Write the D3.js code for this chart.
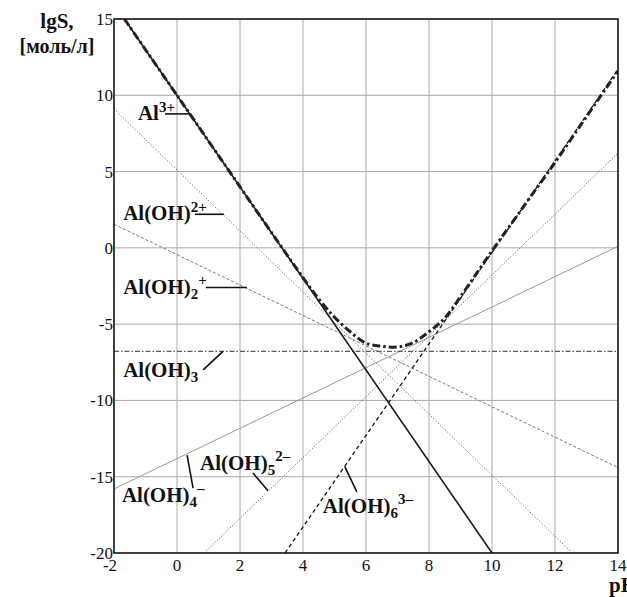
<!DOCTYPE html>
<html>
<head>
<meta charset="utf-8">
<script src="https://cdn.jsdelivr.net/npm/d3@7"></script>
<style>
  body { margin: 0; background: #fff; }
  svg { display: block; }
  text { font-family: "Liberation Serif", "Tinos", "Times New Roman", "DejaVu Serif", serif; fill: #111; }
  .tick_lbl { font-size: 17px; }
  .lbl { font-size: 21px; font-weight: bold; }
</style>
</head>
<body>
<svg id="chart" width="627" height="597"></svg>
<script>
// axis ticks
let ph_ticks = [-2, 0, 2, 4, 6, 8, 10, 12, 14],
	lgs_ticks = [-20, -15, -10, -5, 0, 5, 10, 15];

// straight lines, [pH, lgS] end points
let al3 = [[-1.67, 15], [10, -20]],
	aloh = [[-2, 9.1], [12.55, -20]],
	aloh2 = [[-2, 1.55], [14, -14.4]],
	aloh3 = [[-2, -6.78], [14, -6.78]],
	aloh4 = [[-2, -15.8], [14, 0.1]],
	aloh5 = [[0.86, -20], [14, 6.2]],
	aloh6 = [[3.43, -20], [14, 11.7]];

// total solubility curve
let total_ph = [-1.67, 0, 2, 3, 4, 4.5, 5, 5.5, 6, 6.5, 7, 7.5, 8, 8.5, 9, 10, 11, 12, 13, 14],
	total_lgs = [15, 10, 4, 1, -1.95, -3.35, -4.55, -5.5, -6.25, -6.45, -6.5, -6.2, -5.5, -4.6, -3.2, -0.2, 2.7, 5.6, 8.6, 11.6];

let margin = {left: 114, right: 9, top: 19, bottom: 44},
	width = 627, height = 597;

let x = d3.scaleLinear().domain([-2, 14]).range([margin.left, width - margin.right]),
	y = d3.scaleLinear().domain([-20, 15]).range([height - margin.bottom, margin.top]);

let svg = d3.select('#chart');

svg.append('defs').append('clipPath')
	.attr('id', 'plot_clip')
	.append('rect')
	.attr('x', x(-2)).attr('y', y(15))
	.attr('width', x(14) - x(-2)).attr('height', y(-20) - y(15));

// grid
let grid = svg.append('g').attr('class', 'grid');
grid.selectAll('.vgrid')
	.data(ph_ticks)
	.enter()
	.append('line')
	.attr('x1', d => x(d)).attr('x2', d => x(d))
	.attr('y1', y(15)).attr('y2', y(-20))
	.style('stroke', '#a8a8a8')
	.style('stroke-width', 1);
grid.selectAll('.hgrid')
	.data(lgs_ticks)
	.enter()
	.append('line')
	.attr('x1', x(-2)).attr('x2', x(14))
	.attr('y1', d => y(d)).attr('y2', d => y(d))
	.style('stroke', '#a8a8a8')
	.style('stroke-width', 1);

// tick labels
svg.selectAll('.xlbl')
	.data(ph_ticks)
	.enter()
	.append('text')
	.attr('class', 'tick_lbl')
	.attr('x', d => x(d) - (d < 0 ? 4 : 0))
	.attr('y', y(-20) + 18)
	.attr('text-anchor', 'middle')
	.text(d => d);
svg.selectAll('.ylbl')
	.data(lgs_ticks)
	.enter()
	.append('text')
	.attr('class', 'tick_lbl')
	.attr('x', x(-2) - 1)
	.attr('y', d => y(d) + 6)
	.attr('text-anchor', 'end')
	.text(d => d);

// curves
let line_function = d3.line()
	.x(d => x(d[0]))
	.y(d => y(d[1]));

let curves = svg.append('g').attr('clip-path', 'url(#plot_clip)');
let line_styles = [
	{data: aloh, color: '#666', w: 1, dash: '1.2,2'},
	{data: aloh2, color: '#777', w: 1, dash: '3,2'},
	{data: aloh4, color: '#999', w: 1, dash: null},
	{data: aloh5, color: '#666', w: 1, dash: '1.2,1.8'},
	{data: aloh3, color: '#333', w: 1, dash: '5,2,1.5,2'},
	{data: aloh6, color: '#111', w: 1.3, dash: '4,3'},
	{data: al3, color: '#1a1a1a', w: 1.6, dash: null},
];
line_styles.forEach(s => {
	curves.append('path')
		.attr('d', line_function(s.data))
		.style('fill', 'none')
		.style('stroke', s.color)
		.style('stroke-width', s.w)
		.style('stroke-dasharray', s.dash);
});

let total = total_ph.map((p, i) => [p, total_lgs[i]]);
curves.append('path')
	.attr('d', line_function.curve(d3.curveCatmullRom)(total))
	.style('fill', 'none')
	.style('stroke', '#222')
	.style('stroke-width', 3)
	.style('stroke-dasharray', '8,3,2.5,3');

// frame
svg.append('rect')
	.attr('x', x(-2)).attr('y', y(15))
	.attr('width', x(14) - x(-2)).attr('height', y(-20) - y(15))
	.style('fill', 'none')
	.style('stroke', '#111')
	.style('stroke-width', 1.5);

// species labels: text start [pH, lgS], sub/sup, leader from -> to
let labels = [
	{at: [-1.24, 8.4], main: 'Al', sub: null, sup: '3+', lead: [[-0.38, 8.78], [0.41, 8.78]]},
	{at: [-1.71, 1.8], main: 'Al(OH)', sub: null, sup: '2+', lead: [[0.57, 2.2], [1.49, 2.2]]},
	{at: [-1.71, -3.0], main: 'Al(OH)', sub: '2', sup: '+', lead: [[0.92, -2.6], [2.22, -2.6]]},
	{at: [-1.71, -8.45], main: 'Al(OH)', sub: '3', sup: null, lead: [[0.83, -8.0], [1.46, -6.78]]},
	{at: [-1.75, -16.65], main: 'Al(OH)', sub: '4', sup: '\u2013', lead: [[0.51, -15.75], [0.32, -13.58]]},
	{at: [0.73, -14.55], main: 'Al(OH)', sub: '5', sup: '2\u2013', lead: [[2.41, -14.75], [2.89, -15.92]]},
	{at: [4.63, -17.4], main: 'Al(OH)', sub: '6', sup: '3\u2013', lead: [[5.33, -14.35], [5.71, -15.99]]},
];

labels.forEach(l => {
	let t = svg.append('text')
		.attr('class', 'lbl')
		.attr('x', x(l.at[0]))
		.attr('y', y(l.at[1]));
	t.append('tspan').text(l.main);
	if (l.sub) {
		t.append('tspan')
			.attr('dy', 5)
			.style('font-size', '15px')
			.text(l.sub);
	}
	if (l.sup) {
		t.append('tspan')
			.attr('dy', l.sub ? -14 : -8)
			.style('font-size', '15px')
			.text(l.sup);
	}
	svg.append('line')
		.attr('x1', x(l.lead[0][0])).attr('y1', y(l.lead[0][1]))
		.attr('x2', x(l.lead[1][0])).attr('y2', y(l.lead[1][1]))
		.style('stroke', '#111')
		.style('stroke-width', 1.6);
});

// axis titles
svg.append('text')
	.attr('class', 'lbl')
	.attr('x', 57).attr('y', 28)
	.attr('text-anchor', 'middle')
	.text('lgS,');
svg.append('text')
	.attr('class', 'lbl')
	.attr('x', 57).attr('y', 53)
	.attr('text-anchor', 'middle')
	.style('font-size', '20px')
	.text('[моль/л]');
svg.append('text')
	.attr('class', 'lbl')
	.attr('x', 609).attr('y', 592)
	.text('pH');
</script>
</body>
</html>
